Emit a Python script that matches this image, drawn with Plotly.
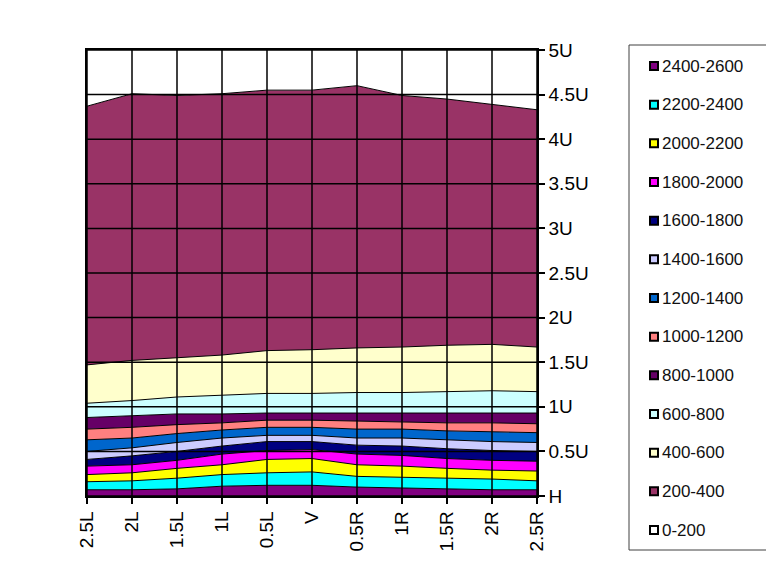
import plotly.graph_objects as go

categories = ["2.5L", "2L", "1.5L", "1L", "0.5L", "V", "0.5R", "1R", "1.5R", "2R", "2.5R"]

series_names = ["2400-2600", "2200-2400", "2000-2200", "1800-2000", "1600-1800",
                "1400-1600", "1200-1400", "1000-1200", "800-1000", "600-800",
                "400-600", "200-400", "0-200"]

# band thickness of each series (stacked from the bottom, in U)
s2400_2600 = [0.07, 0.07, 0.08, 0.11, 0.12, 0.12, 0.10, 0.09, 0.08, 0.07, 0.07]
s2200_2400 = [0.09, 0.10, 0.12, 0.13, 0.14, 0.15, 0.12, 0.12, 0.12, 0.12, 0.10]
s2000_2200 = [0.08, 0.09, 0.11, 0.11, 0.15, 0.15, 0.13, 0.125, 0.11, 0.10, 0.11]
s1800_2000 = [0.095, 0.09, 0.09, 0.12, 0.10, 0.10, 0.12, 0.12, 0.11, 0.11, 0.11]
s1600_1800 = [0.075, 0.10, 0.10, 0.09, 0.10, 0.09, 0.10, 0.105, 0.11, 0.11, 0.11]
s1400_1600 = [0.09, 0.09, 0.10, 0.09, 0.07, 0.07, 0.08, 0.09, 0.10, 0.10, 0.10]
s1200_1400 = [0.13, 0.11, 0.10, 0.09, 0.09, 0.09, 0.10, 0.10, 0.10, 0.11, 0.11]
s1000_1200 = [0.12, 0.12, 0.10, 0.08, 0.08, 0.08, 0.09, 0.08, 0.09, 0.10, 0.10]
s800_1000 = [0.13, 0.13, 0.12, 0.10, 0.08, 0.08, 0.09, 0.10, 0.11, 0.11, 0.12]
s600_800 = [0.16, 0.17, 0.19, 0.21, 0.22, 0.22, 0.23, 0.23, 0.24, 0.25, 0.24]
s400_600 = [0.43, 0.45, 0.44, 0.45, 0.48, 0.49, 0.50, 0.51, 0.52, 0.52, 0.50]
s200_400 = [2.90, 2.99, 2.94, 2.93, 2.92, 2.91, 2.94, 2.82, 2.76, 2.69, 2.66]
s0_200 = [0.65, 0.51, 0.53, 0.51, 0.47, 0.47, 0.42, 0.53, 0.57, 0.63, 0.69]

series_values = [s2400_2600, s2200_2400, s2000_2200, s1800_2000, s1600_1800,
                 s1400_1600, s1200_1400, s1000_1200, s800_1000, s600_800,
                 s400_600, s200_400, s0_200]

colors = ["#800080", "#00FFFF", "#FFFF00", "#FF00FF", "#000080", "#CCCCFF",
          "#0066CC", "#FF8080", "#660066", "#CCFFFF", "#FFFFCC", "#993366",
          "#FFFFFF"]

tick_vals = [0, 0.5, 1, 1.5, 2, 2.5, 3, 3.5, 4, 4.5, 5]
tick_text = ["H", "0.5U", "1U", "1.5U", "2U", "2.5U", "3U", "3.5U", "4U", "4.5U", "5U"]

FONT = "Liberation Sans, Arial, sans-serif"
W, H = 774, 586
# plot area (figure pixels)
PL, PT, PW, PH = 79, 42, 450, 446


def px_x(p):
    return (p - PL) / PW


def px_y(p):
    return (PT + PH - p) / PH


fig = go.Figure()
for name, vals, col in zip(series_names, series_values, colors):
    fig.add_trace(go.Scatter(
        x=categories, y=vals, name=name, stackgroup="one", mode="lines",
        line=dict(color="black", width=1), fillcolor=col,
        showlegend=False, hoverinfo="skip"))

shapes = []
for i in range(len(categories)):
    shapes.append(dict(type="line", xref="x", yref="y", x0=i, x1=i,
                       y0=tick_vals[0], y1=tick_vals[-1],
                       line=dict(color="black", width=1.5), layer="above"))
for v in tick_vals:
    shapes.append(dict(type="line", xref="paper", yref="y", x0=0, x1=1,
                       y0=v, y1=v, line=dict(color="black", width=1.5),
                       layer="above"))

# legend frame
shapes.append(dict(type="rect", xref="paper", yref="paper",
                   x0=px_x(621), x1=px_x(763), y0=px_y(542), y1=px_y(37),
                   line=dict(color="#404040", width=1),
                   fillcolor="rgba(0,0,0,0)"))

annotations = []
first_y, step = 58, 38.67
sym_x, sym_half = 646, 4
for k, (name, col) in enumerate(zip(series_names, colors)):
    cy = first_y + k * step
    shapes.append(dict(type="rect", xref="paper", yref="paper",
                       x0=px_x(sym_x - sym_half), x1=px_x(sym_x + sym_half),
                       y0=px_y(cy + sym_half), y1=px_y(cy - sym_half),
                       line=dict(color="black", width=2), fillcolor=col))
    annotations.append(dict(xref="paper", yref="paper", x=px_x(652), y=px_y(cy),
                            text=name, showarrow=False, xanchor="left",
                            yanchor="middle",
                            font=dict(family=FONT, size=17, color="#111111")))

fig.update_layout(
    width=W, height=H,
    margin=dict(l=PL, r=W - PL - PW, t=PT, b=H - PT - PH, autoexpand=False),
    paper_bgcolor="white", plot_bgcolor="white",
    font=dict(family=FONT, color="black"),
    shapes=shapes,
    annotations=annotations,
    showlegend=False,
    xaxis=dict(
        type="category", range=[0, len(categories) - 1],
        showgrid=False, zeroline=False,
        showline=True, linecolor="black", linewidth=1.5, mirror=True,
        ticks="outside", ticklen=6, tickcolor="black", tickwidth=1.5,
        tickangle=-90, tickfont=dict(size=19, family=FONT),
    ),
    yaxis=dict(
        side="right", range=[0, 5],
        tickvals=tick_vals, ticktext=tick_text,
        showgrid=False, zeroline=False,
        showline=True, linecolor="black", linewidth=1.5, mirror=True,
        ticks="outside", ticklen=6, tickcolor="black", tickwidth=1.5,
        tickfont=dict(size=19, family=FONT),
    ),
)

fig.write_html("out.html")
